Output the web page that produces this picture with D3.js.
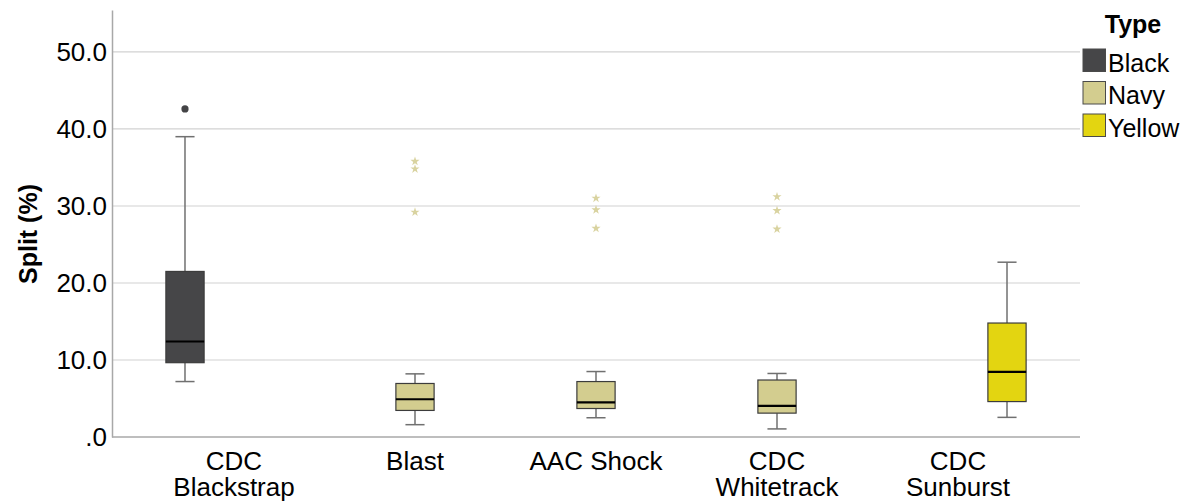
<!DOCTYPE html>
<html>
<head>
<meta charset="utf-8">
<script src="https://cdn.jsdelivr.net/npm/d3@7"></script>
<style>
  html, body { margin: 0; padding: 0; background: #fff; }
  svg { display: block; font-family: "Liberation Sans", Arial, sans-serif; }
</style>
</head>
<body>
<svg id="chart" width="1188" height="504"></svg>
<script>
// Split (%) by product, grouped by Type
const categories = ["CDC Blackstrap", "Blast", "AAC Shock", "CDC Whitetrack", "CDC Sunburst"];
const categoryLines = [["CDC", "Blackstrap"], ["Blast"], ["AAC Shock"], ["CDC", "Whitetrack"], ["CDC", "Sunburst"]];
const types = ["Black", "Navy", "Yellow"];
const typeColors = ["#464648", "#d3cd8f", "#e3d511"];
const boxType = ["Black", "Navy", "Navy", "Navy", "Yellow"];
// five-number summaries: lower whisker, Q1, median, Q3, upper whisker
const whiskerLow = [7.2, 1.6, 2.5, 1.05, 2.55];
const q1 = [9.65, 3.45, 3.7, 3.1, 4.6];
const median = [12.4, 4.9, 4.5, 4.05, 8.45];
const q3 = [21.5, 6.95, 7.2, 7.4, 14.8];
const whiskerHigh = [39.0, 8.2, 8.5, 8.25, 22.7];
// outliers (circles) and extreme values (stars)
const outliers = [[42.6], [], [], [], []];
const extremes = [[], [35.8, 34.8, 29.2], [31.0, 29.5, 27.1], [31.2, 29.4, 27.0], []];
const yTicks = [0, 10, 20, 30, 40, 50];

const svg = d3.select("#chart");
const plotLeft = 112, plotRight = 1080, plotTop = 10, plotBottom = 437;

const x = d3.scaleBand().domain(categories).range([plotLeft, plotRight]).paddingInner(0).paddingOuter(0.174);
const step = x.bandwidth();
const sub = d3.scaleBand().domain(types).range([step / 2 - 73.5, step / 2 + 73.5]).paddingInner(0.22).paddingOuter(0.11);
const y = d3.scaleLinear().domain([0, 55.45]).range([plotBottom, plotTop]);
const color = d3.scaleOrdinal().domain(types).range(typeColors);

// gridlines
svg.append("g").selectAll("line").data(yTicks.filter(d => d > 0)).join("line")
  .attr("x1", plotLeft).attr("x2", plotRight)
  .attr("y1", d => y(d)).attr("y2", d => y(d))
  .attr("stroke", "#d2d2d2").attr("stroke-width", 1.2);

// y axis
const yAxis = d3.axisLeft(y).tickValues(yTicks).tickSize(0).tickPadding(5)
  .tickFormat(d => d === 0 ? ".0" : d.toFixed(1));
const gy = svg.append("g").attr("transform", `translate(${plotLeft},0)`).call(yAxis);
gy.select(".domain").attr("stroke", "#a8a8a8").attr("stroke-width", 1.5);
gy.selectAll("text").attr("font-size", 26).attr("fill", "#000")
  .attr("font-family", "Liberation Sans, Arial, sans-serif");

// x axis line
svg.append("line").attr("x1", plotLeft).attr("x2", plotRight).attr("y1", plotBottom).attr("y2", plotBottom)
  .attr("stroke", "#a8a8a8").attr("stroke-width", 1.5);

// x category labels (two lines where the name is long)
const xl = svg.append("g");
categories.forEach((c, i) => {
  const t = xl.append("text")
    .attr("x", x(c) + step / 2)
    .attr("y", 470)
    .attr("text-anchor", "middle")
    .attr("font-size", 26).attr("fill", "#000");
  categoryLines[i].forEach((ln, j) => {
    t.append("tspan").attr("x", x(c) + step / 2).attr("dy", j === 0 ? 0 : 26).text(ln);
  });
});

// y axis title
svg.append("text")
  .attr("transform", `translate(37,234) rotate(-90)`)
  .attr("text-anchor", "middle")
  .attr("font-size", 25).attr("font-weight", "bold").attr("fill", "#000")
  .text("Split (%)");

// boxes
const boxes = svg.append("g");
categories.forEach((c, i) => {
  const t = boxType[i];
  const bx = x(c) + sub(t);
  const bw = sub.bandwidth();
  const cx = bx + bw / 2;
  const g = boxes.append("g");
  // whiskers
  g.append("line").attr("x1", cx).attr("x2", cx).attr("y1", y(whiskerHigh[i])).attr("y2", y(q3[i]))
    .attr("stroke", "#707070").attr("stroke-width", 1.5);
  g.append("line").attr("x1", cx).attr("x2", cx).attr("y1", y(q1[i])).attr("y2", y(whiskerLow[i]))
    .attr("stroke", "#707070").attr("stroke-width", 1.5);
  [whiskerHigh[i], whiskerLow[i]].forEach(v => {
    g.append("line").attr("x1", cx - bw / 4).attr("x2", cx + bw / 4).attr("y1", y(v)).attr("y2", y(v))
      .attr("stroke", "#707070").attr("stroke-width", 1.5);
  });
  // box
  g.append("rect").attr("x", bx).attr("width", bw)
    .attr("y", y(q3[i])).attr("height", y(q1[i]) - y(q3[i]))
    .attr("fill", color(t)).attr("stroke", "#3c3c3c").attr("stroke-width", 1.2);
  // median
  g.append("line").attr("x1", bx).attr("x2", bx + bw).attr("y1", y(median[i])).attr("y2", y(median[i]))
    .attr("stroke", "#000").attr("stroke-width", 2.2);
  // outliers
  g.selectAll("circle").data(outliers[i]).join("circle")
    .attr("cx", cx).attr("cy", d => y(d)).attr("r", 3.6).attr("fill", "#444446");
  // extremes
  g.selectAll("path.star").data(extremes[i]).join("path").attr("class", "star")
    .attr("d", d3.symbol().type(d3.symbolStar).size(26))
    .attr("transform", d => `translate(${cx},${y(d)})`)
    .attr("fill", "#d9d3a0");
});

// legend
const lg = svg.append("g");
lg.append("text").attr("x", 1133).attr("y", 33).attr("text-anchor", "middle")
  .attr("font-size", 25).attr("font-weight", "bold").attr("fill", "#000").text("Type");
types.forEach((t, i) => {
  const yy = 49 + i * 32.5;
  lg.append("rect").attr("x", 1083).attr("y", yy).attr("width", 22.5).attr("height", 22.5)
    .attr("fill", color(t)).attr("stroke", "#4a4a4a").attr("stroke-width", 1);
  lg.append("text").attr("x", 1108).attr("y", yy + 22.5).attr("font-size", 25).attr("fill", "#000").text(t);
});
</script>
</body>
</html>
